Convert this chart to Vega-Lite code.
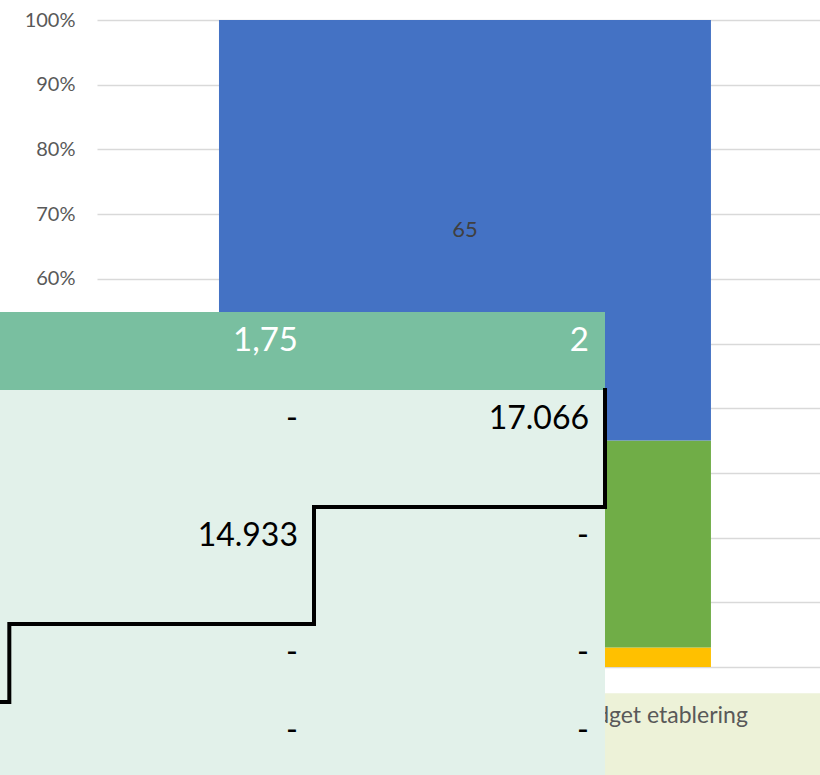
{
  "$schema": "https://vega.github.io/schema/vega-lite/v6.json",
  "width": 723,
  "height": 647,
  "padding": {"left": 97, "top": 20, "right": 0, "bottom": 108},
  "autosize": {"type": "none"},
  "background": "white",
  "config": {"view": {"stroke": null}, "font": "Lato"},
  "datasets": {
    "andele": [
      {"kategori": "Budget etablering", "serie": "Serie1", "k": 1, "andel": 3},
      {"kategori": "Budget etablering", "serie": "Serie2", "k": 2, "andel": 32},
      {"kategori": "Budget etablering", "serie": "Serie3", "k": 3, "andel": 65}
    ],
    "felter": [
      {"del": "etiket", "x0": 2.5, "x1": 4.2, "y0": 9.777, "y1": 13},
      {"del": "hoved", "x0": 0.9, "x1": 3, "y0": 0, "y1": 2},
      {"del": "krop", "x0": 0.9, "x1": 3, "y0": 2, "y1": 13}
    ],
    "etiket": [
      {"txt": "Budget etablering", "col": 3.491, "line": 10.55}
    ],
    "tekst": [
      {"del": "hoved", "col": 2, "line": 1, "txt": "1,75"},
      {"del": "hoved", "col": 3, "line": 1, "txt": "2"},
      {"del": "krop", "col": 2, "line": 3, "txt": "-"},
      {"del": "krop", "col": 3, "line": 3, "txt": "17.066"},
      {"del": "krop", "col": 2, "line": 6, "txt": "14.933"},
      {"del": "krop", "col": 3, "line": 6, "txt": "-"},
      {"del": "krop", "col": 2, "line": 9, "txt": "-"},
      {"del": "krop", "col": 3, "line": 9, "txt": "-"},
      {"del": "krop", "col": 2, "line": 11, "txt": "-"},
      {"del": "krop", "col": 3, "line": 11, "txt": "-"}
    ],
    "trin": [
      {"i": 1, "col": 0.9, "line": 10},
      {"i": 2, "col": 0.953, "line": 10},
      {"i": 3, "col": 0.953, "line": 8},
      {"i": 4, "col": 2, "line": 8},
      {"i": 5, "col": 2, "line": 5},
      {"i": 6, "col": 3, "line": 5},
      {"i": 7, "col": 3, "line": 2}
    ]
  },
  "layer": [
    {
      "data": {"name": "andele"},
      "encoding": {
        "x": {
          "field": "kategori",
          "type": "nominal",
          "scale": {"type": "band", "paddingInner": 0, "paddingOuter": 0.2348, "align": 0.528},
          "axis": null
        },
        "y": {
          "field": "andel",
          "type": "quantitative",
          "stack": "normalize",
          "scale": {"domain": [0, 1], "nice": false},
          "axis": {
            "format": ".0%",
            "tickCount": 10,
            "domain": false,
            "ticks": false,
            "labelPadding": 22,
            "labelFontSize": 20,
            "labelColor": "#595959",
            "labelFont": "Lato",
            "gridColor": "#D9D9D9",
            "gridWidth": 1.3,
            "title": null
          }
        },
        "order": {"field": "k", "type": "quantitative"}
      },
      "layer": [
        {
          "mark": {"type": "bar"},
          "encoding": {
            "color": {
              "field": "serie",
              "type": "nominal",
              "scale": {"domain": ["Serie1", "Serie2", "Serie3"], "range": ["#FFC000", "#70AD47", "#4472C4"]},
              "legend": null
            }
          }
        },
        {
          "mark": {"type": "text", "fontSize": 22, "color": "#404040", "font": "Lato"},
          "encoding": {
            "y": {"field": "andel", "type": "quantitative", "stack": "normalize", "bandPosition": 0.5},
            "text": {"field": "andel", "type": "quantitative"}
          }
        }
      ]
    },
    {
      "layer": [
        {
          "data": {"name": "felter"},
          "transform": [{"filter": "datum.del === 'etiket'"}],
          "mark": {"type": "rect", "fill": "#EDF2D8", "clip": false},
          "encoding": {
            "x": {"field": "x0", "type": "quantitative", "scale": {"domain": [1.2543, 3.7388], "nice": false, "zero": false}, "axis": null},
            "x2": {"field": "x1"},
            "y": {"field": "y0", "type": "quantitative", "scale": {"domain": [-7.487, 9.103], "nice": false, "zero": false, "reverse": true}, "axis": null},
            "y2": {"field": "y1"}
          }
        },
        {
          "data": {"name": "etiket"},
          "mark": {"type": "text", "align": "right", "baseline": "alphabetic", "fontSize": 23, "color": "#595959", "font": "Lato"},
          "encoding": {
            "x": {"field": "col", "type": "quantitative", "scale": {"domain": [1.2543, 3.7388], "nice": false, "zero": false}, "axis": null},
            "y": {"field": "line", "type": "quantitative", "scale": {"domain": [-7.487, 9.103], "nice": false, "zero": false, "reverse": true}, "axis": null},
            "text": {"field": "txt"}
          }
        },
        {
          "data": {"name": "felter"},
          "transform": [{"filter": "datum.del !== 'etiket'"}],
          "mark": {"type": "rect", "clip": false},
          "encoding": {
            "x": {"field": "x0", "type": "quantitative", "scale": {"domain": [1.2543, 3.7388], "nice": false, "zero": false}, "axis": null},
            "x2": {"field": "x1"},
            "y": {"field": "y0", "type": "quantitative", "scale": {"domain": [-7.487, 9.103], "nice": false, "zero": false, "reverse": true}, "axis": null},
            "y2": {"field": "y1"},
            "color": {
              "field": "del",
              "type": "nominal",
              "scale": {"domain": ["hoved", "krop"], "range": ["#79BFA0", "#E2F1EA"]},
              "legend": null
            }
          }
        },
        {
          "data": {"name": "tekst"},
          "transform": [{"filter": "datum.del === 'hoved'"}],
          "mark": {"type": "text", "align": "right", "baseline": "alphabetic", "dx": -16, "fontSize": 33, "color": "white", "font": "Lato"},
          "encoding": {
            "x": {"field": "col", "type": "quantitative", "scale": {"domain": [1.2543, 3.7388], "nice": false, "zero": false}, "axis": null},
            "y": {"field": "line", "type": "quantitative", "scale": {"domain": [-7.487, 9.103], "nice": false, "zero": false, "reverse": true}, "axis": null},
            "text": {"field": "txt"}
          }
        },
        {
          "data": {"name": "tekst"},
          "transform": [{"filter": "datum.del === 'krop'"}],
          "mark": {"type": "text", "align": "right", "baseline": "alphabetic", "dx": -16, "fontSize": 32, "color": "black", "font": "Lato"},
          "encoding": {
            "x": {"field": "col", "type": "quantitative", "scale": {"domain": [1.2543, 3.7388], "nice": false, "zero": false}, "axis": null},
            "y": {"field": "line", "type": "quantitative", "scale": {"domain": [-7.487, 9.103], "nice": false, "zero": false, "reverse": true}, "axis": null},
            "text": {"field": "txt"}
          }
        },
        {
          "data": {"name": "trin"},
          "mark": {"type": "line", "color": "black", "strokeWidth": 4, "strokeJoin": "miter", "strokeCap": "square", "clip": false},
          "encoding": {
            "x": {"field": "col", "type": "quantitative", "scale": {"domain": [1.2543, 3.7388], "nice": false, "zero": false}, "axis": null},
            "y": {"field": "line", "type": "quantitative", "scale": {"domain": [-7.487, 9.103], "nice": false, "zero": false, "reverse": true}, "axis": null},
            "order": {"field": "i", "type": "quantitative"}
          }
        }
      ]
    }
  ],
  "resolve": {"scale": {"x": "independent", "y": "independent", "color": "independent"}}
}
